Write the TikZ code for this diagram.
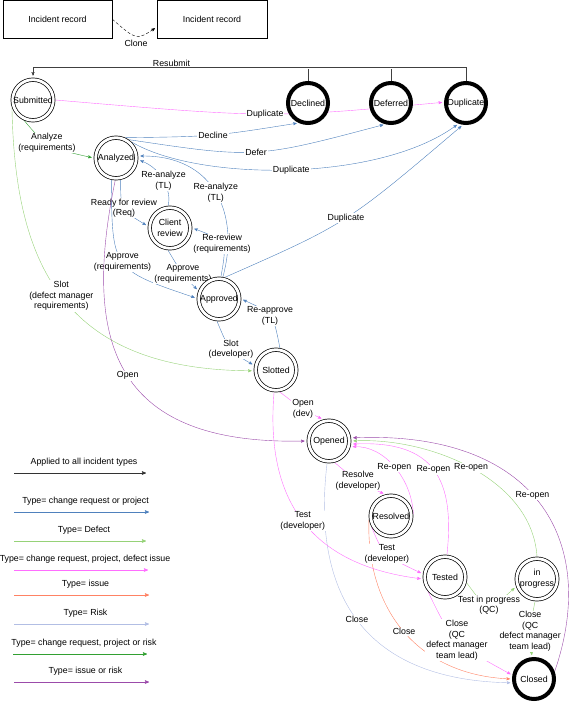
\documentclass[tikz,border=0pt]{standalone}
\usepackage{fontspec}
\setmainfont{Liberation Sans}
\usetikzlibrary{arrows,automata,backgrounds}

\definecolor{blueE}{RGB}{79,129,189}
\definecolor{lgreenE}{RGB}{150,210,120}
\definecolor{magE}{RGB}{255,110,255}
\definecolor{salmonE}{RGB}{255,130,100}
\definecolor{lavE}{RGB}{178,190,228}
\definecolor{greenE}{RGB}{50,160,50}
\definecolor{purpleE}{RGB}{155,75,170}
\newcommand{\lbl}{\fontsize{8.8}{10.6}\selectfont}

\begin{document}
\begin{tikzpicture}[->,>=stealth',shorten >=2pt,x=1pt,y=-1pt,line width=.6pt,font=\lbl]
	\tikzstyle{every state}=[draw=black,fill=white,text=black,minimum size=40.6pt,inner sep=0pt,line width=.7pt]
	\tikzstyle{accepting}=[double,double distance=2.8pt,outer sep=2.1pt]
	\tikzstyle{endstate}=[line width=4pt,minimum size=40pt,outer sep=2pt]
	\tikzstyle{edgetext}=[fill=white,inner sep=1pt,align=center,text=black]
	\tikzstyle{record}=[draw=black,line width=.7pt,minimum width=109pt,minimum height=37.5pt]
	\tikzstyle{keytext}=[above=2pt,text depth=.25em,xshift=3pt,text=black]

	\useasboundingbox (0,0) rectangle (572,702);

	\node[record] (R1) at (57.5,19.2) {Incident record};
	\node[record,minimum width=110pt] (R2) at (212,19.2) {Incident record};

	\node[state,accepting] (sub) at (33,100) {Submitted};
	\node[state,endstate] (dec) at (308,103) {Declined};
	\node[state,endstate] (def) at (391,103) {Deferred};
	\node[state,endstate] (dup) at (466,103) {Duplicate};
	\node[state,accepting] (ana) at (116,158) {Analyzed};
	\node[state,accepting,align=center] (cli) at (170,228) {Client\\review};
	\node[state,accepting] (app) at (219,299) {Approved};
	\node[state,accepting] (slo) at (276,370) {Slotted};
	\node[state,accepting] (ope) at (329,441) {Opened};
	\node[state,accepting] (res) at (391,516) {Resolved};
	\node[state,accepting] (tes) at (445,577) {Tested};
	\node[state,accepting,align=center] (pro) at (537,579) {in\\progress};
	\node[state,endstate] (clo) at (534,679) {Closed};

	\begin{scope}[on background layer]
	% clone and resubmit
	\draw[dash pattern=on 3pt off 2pt] (R1.east) .. controls (136.5,40.3) .. ([yshift=-8pt]R2.west) node[pos=.5,below=1pt,text=black] {Clone};
	\coordinate (back) at (33,67);
	\draw[black!75] (dup.north) |- (back) node[pos=.84,above=0pt,inner sep=.5pt,text=black] {Resubmit} -- (sub.north);
	\draw[-,black!75] (dec.north) -- (dec.north |- back);
	\draw[-,black!75] (def.north) -- (def.north |- back);

	% from submitted
	\draw[magE] (sub.0) .. controls (270.2,118.3) .. (dup.178) node[pos=.5,edgetext] {Duplicate};
	\draw[greenE] (sub.190) .. controls (45.1,147) .. (ana.180) node[pos=.5,edgetext] {Analyze\\(requirements)};
	\draw[lgreenE] (sub.200) .. controls (15,260) and (60,370) .. (slo.182) node[pos=.5,edgetext] {Slot\\(defect manager\\requirements)};

	% change request / project
	\draw[blueE] (ana.65) .. controls (213.3,136.5) .. (dec.245) node[pos=.5,edgetext] {Decline};
	\draw[blueE] (ana.55) .. controls (255.7,158.6) .. (def.255) node[pos=.5,edgetext] {Defer};
	\draw[blueE] (ana.45) .. controls (200,182) and (380,182) .. (dup.250) node[pos=.5,edgetext] {Duplicate};
	\draw[blueE] (ana.282) .. controls (120.6,209.7) .. (cli.175) node[pos=.5,edgetext] {Ready for review\\(Req)};
	\draw[blueE] (cli.95) .. controls (172,192) and (162,168) .. (ana.355) node[pos=.5,edgetext] {Re-analyze\\(TL)};
	\draw[blueE] (app.80) .. controls (240,215) and (215,155) .. (ana.5) node[pos=.5,edgetext] {Re-analyze\\(TL)};
	\draw[blueE] (app.85) .. controls (227.2,241.2) .. (cli.0) node[pos=.5,edgetext] {Re-review\\(requirements)};
	\draw[blueE] (ana.258) .. controls (112,269.7) .. (app.178) node[pos=.5,edgetext] {Approve\\(requirements)};
	\draw[blueE] (cli.265) .. controls (182.9,275.2) .. (app.158) node[pos=.5,edgetext] {Approve\\(requirements)};
	\draw[blueE] (app.75) .. controls (346.7,223.6) .. (dup.262) node[pos=.5,edgetext] {Duplicate};
	\draw[blueE] (slo.80) .. controls (273.2,313.5) .. (app.0) node[pos=.5,edgetext] {Re-approve\\(TL)};
	\draw[blueE] (app.265) .. controls (229.4,351) .. (slo.168) node[pos=.5,edgetext] {Slot\\(developer)};

	% issue or risk
	\draw[purpleE] (ana.268) .. controls (80,350) and (120,445) .. (ope.180) node[pos=.5,edgetext] {Open};

	% closing
	\draw[salmonE] (res.190) .. controls (366,610) and (418,675) .. (clo.180) node[pos=.5,edgetext] {Close};
	\draw[lavE] (ope.265) .. controls (312,590) and (360,680) .. (clo.190) node[pos=.5,edgetext] {Close};

	% defect flow
	\draw[magE] (slo.280) .. controls (303.5,410.1) .. (ope.105) node[pos=.5,edgetext] {Open\\(dev)};
	\draw[magE] (slo.265) .. controls (265,500) and (310,565) .. (tes.185) node[pos=.5,edgetext] {Test\\(developer)};
	\draw[magE] (ope.285) .. controls (357.3,481.75) .. (res.105) node[pos=.5,edgetext] {Resolve\\(developer)};
	\draw[magE] (res.210) .. controls (383.5,555.2) .. (tes.172) node[pos=.5,edgetext] {Test\\(developer)};
	\draw[magE] (res.5) .. controls (412,480) and (385,445) .. (ope.345) node[pos=.5,edgetext] {Re-open};
	\draw[magE] (tes.85) .. controls (455,480) and (435,440) .. (ope.352) node[pos=.5,edgetext] {Re-open};
	\draw[magE] (tes.220) .. controls (452.6,642.3) .. (clo.170) node[pos=.5,edgetext] {Close\\(QC\\defect manager\\team lead)};
	\draw[lgreenE] (pro.90) .. controls (532,478) and (428,437) .. (ope.0) node[pos=.5,edgetext] {Re-open};
	\draw[lgreenE] (tes.345) .. controls (488.2,611.8) .. (pro.200) node[pos=.5,edgetext] {Test in progress\\(QC)};
	\draw[lgreenE] (pro.265) .. controls (529,632) .. (clo.95) node[pos=.5,edgetext,inner sep=.5pt] {Close\\(QC\\defect manager\\team lead)};
	\draw[purpleE] (clo.20) .. controls (600,540) and (535,430) .. (ope.8) node[pos=.53,edgetext] {Re-open};
	\end{scope}

	% key
	\coordinate (k1) at (14,473); \coordinate (k1e) at (148,473);
	\draw[black!80] (k1) -- (k1e) node[pos=.5,keytext] {Applied to all incident types};
	\coordinate (k2) at (14,512); \coordinate (k2e) at (151,512);
	\draw[blueE] (k2) -- (k2e) node[pos=.5,keytext] {Type= change request or project};
	\coordinate (k3) at (14,541); \coordinate (k3e) at (148,541);
	\draw[lgreenE] (k3) -- (k3e) node[pos=.5,keytext] {Type= Defect};
	\coordinate (k4) at (14,570); \coordinate (k4e) at (150,570);
	\draw[magE] (k4) -- (k4e) node[pos=.5,keytext] {Type= change request, project, defect issue};
	\coordinate (k5) at (14,595); \coordinate (k5e) at (151,595);
	\draw[salmonE] (k5) -- (k5e) node[pos=.5,keytext] {Type= issue};
	\coordinate (k6) at (14,624); \coordinate (k6e) at (151,624);
	\draw[lavE] (k6) -- (k6e) node[pos=.5,keytext] {Type= Risk};
	\coordinate (k7) at (13,654); \coordinate (k7e) at (149,654);
	\draw[greenE] (k7) -- (k7e) node[pos=.5,keytext] {Type= change request, project or risk};
	\coordinate (k8) at (14,682); \coordinate (k8e) at (151,682);
	\draw[purpleE] (k8) -- (k8e) node[pos=.5,keytext] {Type= issue or risk};
\end{tikzpicture}
\end{document}
